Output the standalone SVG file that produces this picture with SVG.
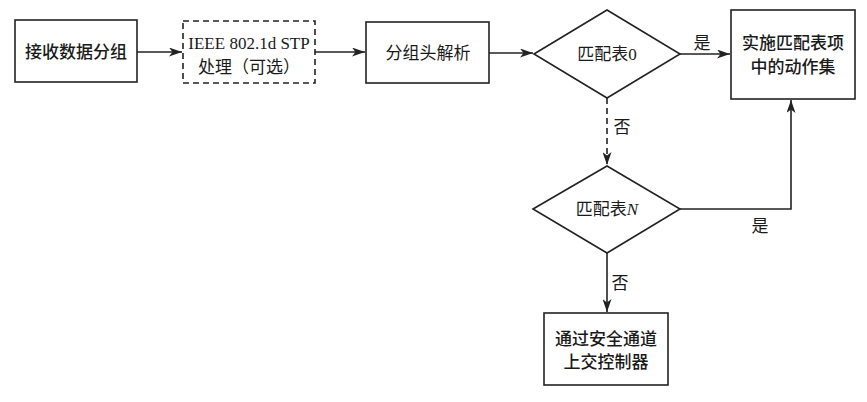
<svg xmlns="http://www.w3.org/2000/svg" width="867" height="402" viewBox="0 0 867 402">
<style>
.box{fill:#fff;stroke:#222;stroke-width:1.6}
.dash{stroke-dasharray:6,4}
.ln{fill:none;stroke:#222;stroke-width:1.6}
text{font-family:"Liberation Serif","Noto Sans CJK SC",serif;font-size:17px;fill:#1a1a1a;text-anchor:middle;dominant-baseline:central}
.b{font-weight:500}
</style>
<defs>
<marker id="ah" viewBox="0 0 13 9" refX="13" refY="4.5" markerWidth="13" markerHeight="9" markerUnits="userSpaceOnUse" orient="auto">
<path d="M0,0 L13,4.5 L0,9 L3.5,4.5 z" fill="#222"/>
</marker>
</defs>
<rect width="867" height="402" fill="#fff"/>
<g id="connectors">
<line class="ln" x1="137" y1="52" x2="182" y2="52" marker-end="url(#ah)"/>
<line class="ln" x1="315" y1="52" x2="365" y2="52" marker-end="url(#ah)"/>
<line class="ln" x1="489" y1="53" x2="533" y2="53" marker-end="url(#ah)"/>
<line class="ln" x1="680" y1="54" x2="730" y2="54" marker-end="url(#ah)"/>
<line class="ln dash" x1="607" y1="98" x2="607" y2="165" marker-end="url(#ah)"/>
<polyline class="ln" points="679,209 791,209 791,100" marker-end="url(#ah)"/>
<line class="ln" x1="607" y1="253" x2="607" y2="312" marker-end="url(#ah)"/>
<text x="702" y="43">是</text>
<text x="622" y="127">否</text>
<text x="760" y="226">是</text>
<text x="620" y="283">否</text>
</g>
<g id="n1">
<rect class="box" x="15" y="20" width="122" height="62"/>
<text class="b" x="76" y="52">接收数据分组</text>
</g>
<g id="n2">
<rect class="box dash" x="183" y="21" width="132" height="62"/>
<text x="249" y="43">IEEE 802.1d STP</text>
<text x="249" y="67">处理（可选）</text>
</g>
<g id="n3">
<rect class="box" x="366" y="22" width="123" height="61"/>
<text x="428" y="53">分组头解析</text>
</g>
<g id="d1">
<polygon class="box" points="534,54 607,10 680,54 607,98"/>
<text x="607" y="54">匹配表0</text>
</g>
<g id="n4">
<rect class="box" x="731" y="10" width="124" height="89"/>
<text class="b" x="793" y="43">实施匹配表项</text>
<text class="b" x="793" y="67">中的动作集</text>
</g>
<g id="dN">
<polygon class="box" points="533,209 607,166 680,209 607,253"/>
<text x="607" y="209">匹配表<tspan font-style="italic">N</tspan></text>
</g>
<g id="n5">
<rect class="box" x="544" y="313" width="124" height="72"/>
<text class="b" x="606" y="339">通过安全通道</text>
<text class="b" x="606" y="362">上交控制器</text>
</g>
</svg>
